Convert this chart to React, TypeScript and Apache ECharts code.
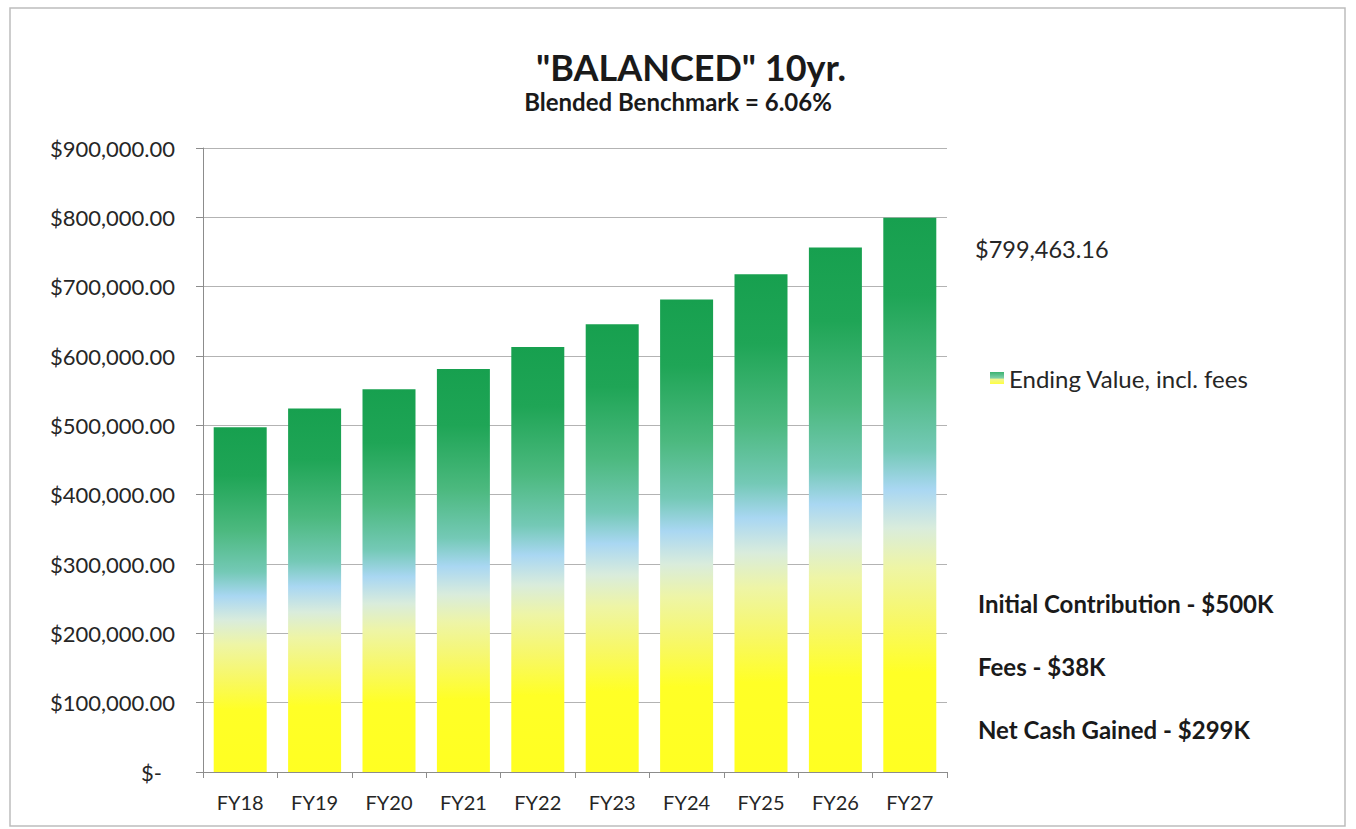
import React, { useEffect, useRef } from "react";
import * as echarts from "echarts";

const categories = ["FY18", "FY19", "FY20", "FY21", "FY22", "FY23", "FY24", "FY25", "FY26", "FY27"];
const endingValues = [497300, 524200, 552100, 581400, 613100, 645900, 681500, 718000, 756600, 799463.16];
const seriesName = "Ending Value, incl. fees";
const titleText = '"BALANCED" 10yr.';
const subtitleText = "Blended Benchmark = 6.06%";
const finalValueLabel = "$799,463.16";
const notes = ["Initial Contribution - $500K", "Fees - $38K", "Net Cash Gained - $299K"];
const yMin = 0;
const yMax = 900000;
const yInterval = 100000;

const FONT = "Lato, 'Open Sans', sans-serif";

function fmtMoney(v: number): string {
  if (v === 0) return "{z|$-}";
  return "$" + v.toLocaleString("en-US", { minimumFractionDigits: 2, maximumFractionDigits: 2 });
}

export default function App() {
  const ref = useRef<HTMLDivElement>(null);
  useEffect(() => {
    if (!ref.current) return;
    const chart = echarts.init(ref.current, undefined, { renderer: "svg" });
    const gradient = new echarts.graphic.LinearGradient(0, 0, 0, 1, [
      { offset: 0, color: "#17a04f" },
      { offset: 0.14, color: "#1fa556" },
      { offset: 0.3, color: "#4cb97f" },
      { offset: 0.42, color: "#74c9b6" },
      { offset: 0.49, color: "#a9d7f2" },
      { offset: 0.56, color: "#d9ecdc" },
      { offset: 0.63, color: "#eef5a6" },
      { offset: 0.73, color: "#f8f864" },
      { offset: 0.82, color: "#ffff26" },
      { offset: 1, color: "#ffff22" },
    ]);
    const legendGradient = new echarts.graphic.LinearGradient(0, 0, 0, 1, [
      { offset: 0, color: "#3cb371" },
      { offset: 0.5, color: "#7fcfa8" },
      { offset: 0.6, color: "#f0f590" },
      { offset: 1, color: "#ffff40" },
    ]);
    chart.setOption({
      animation: false,
      backgroundColor: "#ffffff",
      textStyle: { fontFamily: FONT },
      title: [
        {
          text: titleText,
          left: 536,
          top: 50,
          padding: 0,
          textStyle: { fontFamily: FONT, fontSize: 36, lineHeight: 34, fontWeight: "bold", color: "#1a1a1a" },
        },
        {
          text: subtitleText,
          left: "center",
          top: 89,
          padding: 0,
          textStyle: { fontFamily: FONT, fontSize: 24, lineHeight: 24, fontWeight: "bold", color: "#1a1a1a" },
        },
      ],
      legend: {
        data: [{ name: seriesName, itemStyle: { color: legendGradient } }],
        left: 990,
        top: 366,
        padding: 0,
        itemWidth: 14,
        itemHeight: 12,
        icon: "rect",
        textStyle: { fontFamily: FONT, fontSize: 24, color: "#262626" },
      },
      grid: { left: 203, right: 409, top: 148, bottom: 57 },
      xAxis: {
        type: "category",
        data: categories,
        axisLine: { show: true, lineStyle: { color: "#8c8c8c", width: 1 } },
        axisTick: { show: true, length: 6, alignWithLabel: false, lineStyle: { color: "#8c8c8c" } },
        axisLabel: { fontFamily: FONT, fontSize: 20, color: "#262626", margin: 20 },
      },
      yAxis: {
        type: "value",
        min: yMin,
        max: yMax,
        interval: yInterval,
        axisLine: { show: true, lineStyle: { color: "#8c8c8c", width: 1 } },
        axisTick: { show: true, length: 7, lineStyle: { color: "#8c8c8c" } },
        splitLine: { show: true, lineStyle: { color: "#b3b3b3", width: 1 } },
        axisLabel: {
          fontFamily: FONT,
          fontSize: 22,
          color: "#262626",
          margin: 28,
          formatter: fmtMoney,
          rich: { z: { fontFamily: FONT, fontSize: 22, color: "#262626", padding: [0, 13, 0, 0] } },
        },
      },
      series: [
        {
          name: seriesName,
          type: "bar",
          data: endingValues,
          barWidth: 53,
          itemStyle: { color: gradient },
        },
      ],
      graphic: [
        {
          type: "rect",
          z: -1,
          shape: { x: 10, y: 8, width: 1335, height: 818 },
          style: { fill: "none", stroke: "#bdbdbd", lineWidth: 1.5 },
        },
        {
          type: "text",
          left: 975,
          top: 237,
          style: { text: finalValueLabel, fontFamily: FONT, fontSize: 23.5, fill: "#262626" },
        },
        ...notes.map((t, i) => ({
          type: "text",
          left: 978,
          top: 591 + i * 63,
          style: { text: t, fontFamily: FONT, fontSize: 24, fontWeight: "bold", fill: "#1a1a1a" },
        })),
      ],
    });
    return () => chart.dispose();
  }, []);
  return (
    <div
      ref={ref}
      style={{ position: "fixed", left: 0, top: 0, width: 1356, height: 829 }}
    />
  );
}
